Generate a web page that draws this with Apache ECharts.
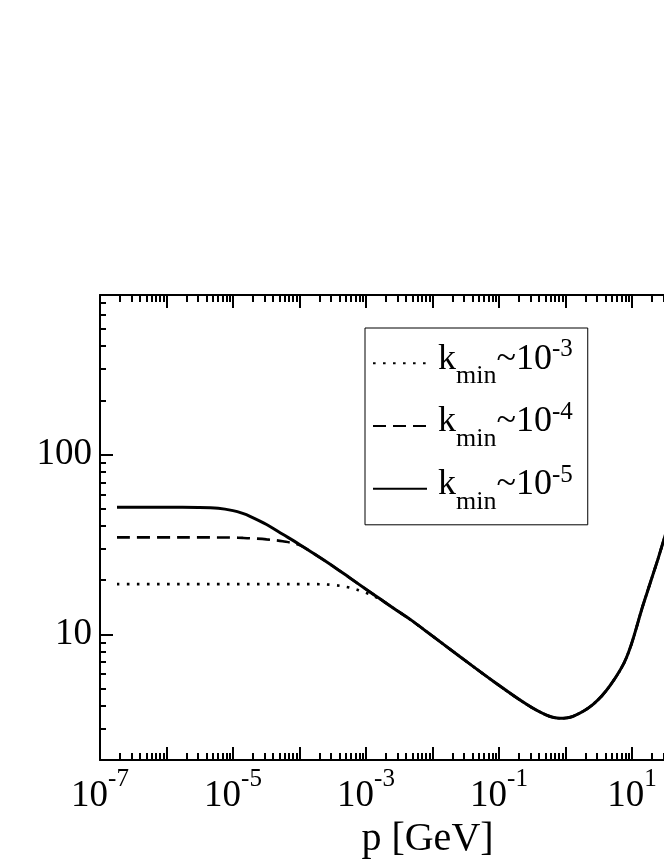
<!DOCTYPE html>
<html><head><meta charset="utf-8">
<script src="https://cdn.jsdelivr.net/npm/echarts@6/dist/echarts.min.js"></script>
<style>html,body{margin:0;padding:0;background:#fff}#c{width:664px;height:860px}</style>
</head><body><div id="c"></div>
<script>
// momentum p [GeV]
const pValues = [1.8e-7, 1e-6, 3e-6, 6e-6, 1e-5, 1.4e-5, 1.8e-5, 3.2e-5, 5.6e-5, 1e-4, 1.8e-4, 3.2e-4, 5.6e-4, 1e-3, 1.6e-3, 2.6e-3, 4.6e-3, 8.3e-3, 2.6e-2, 8.1e-2, 0.26, 0.52, 0.83, 1.3, 2.6, 4.7, 8.3, 14.8, 24.5, 30.2, 40];
// k_min ~ 1e-5 (solid)
const kmin5 = [50.8, 50.8, 50.7, 50.2, 48.7, 47.0, 45.3, 40.8, 36.0, 31.6, 27.5, 23.9, 20.7, 17.8, 15.8, 13.95, 12.1, 10.3, 7.5, 5.5, 4.08, 3.55, 3.41, 3.50, 4.08, 5.2, 7.45, 14.7, 26.1, 33.7, 47];
// k_min ~ 1e-4 (dashed)
const kmin4 = [34.6, 34.6, 34.6, 34.55, 34.5, 34.35, 34.2, 33.7, 32.9, 31.3, 27.5, 23.9, 20.7, 17.8, 15.8, 13.95, 12.1, 10.3, 7.5, 5.5, 4.08, 3.55, 3.41, 3.50, 4.08, 5.2, 7.45, 14.7, 26.1, 33.7, 47];
// k_min ~ 1e-3 (dotted)
const kmin3 = [19.0, 19.0, 19.0, 19.0, 19.0, 19.0, 19.0, 19.0, 19.0, 19.0, 19.0, 18.8, 18.2, 17.0, 15.7, 13.95, 12.1, 10.3, 7.5, 5.5, 4.08, 3.55, 3.41, 3.50, 4.08, 5.2, 7.45, 14.7, 26.1, 33.7, 47];

const seriesNames = ['kmin~10^-3', 'kmin~10^-4', 'kmin~10^-5'];
const seriesExp = ['-3', '-4', '-5'];

const xMin = 1e-7, xMax = 1e3;
const yMin = 2, yMax = 770;
const xMajorTicks = [1e-7, 1e-6, 1e-5, 1e-4, 1e-3, 1e-2, 1e-1, 1, 10, 100, 1000];
const xLabelTicks = [1e-7, 1e-5, 1e-3, 1e-1, 10, 1000];
const yMajorTicks = [10, 100];
const yLabelTicks = [10, 100];
const minorMult = [2, 3, 4, 5, 6, 7, 8, 9];

const xMinorTicks = [];
for (let e = -7; e < 3; e++) for (const m of minorMult) xMinorTicks.push(m * Math.pow(10, e));
const yMinorTicks = [];
for (const d of [1, 10, 100]) for (const m of minorMult) { const v = m * d; if (v > yMin && v < yMax) yMinorTicks.push(v); }

const FONT = '"Liberation Serif", "DejaVu Serif", serif';
const BLACK = '#000';

function pairs(vals) { return pValues.map((p, i) => [p, vals[i]]); }

function xAxisDef(pos, major, showLabel, showLine) {
  return {
    type: 'log', logBase: 10, position: pos, min: xMin, max: xMax,
    axisLine: { show: showLine, onZero: false, lineStyle: { color: BLACK, width: 2 } },
    axisTick: { show: true, inside: true, length: major ? 13 : 7, customValues: major ? xMajorTicks : xMinorTicks, lineStyle: { color: BLACK, width: 2 } },
    minorTick: { show: false },
    splitLine: { show: false },
    axisLabel: showLabel ? {
      show: true, customValues: xLabelTicks, margin: 7,
      formatter: v => '{b|10}{e|' + Math.round(Math.log10(v)) + '}',
      rich: {
        b: { fontFamily: FONT, fontSize: 37, color: BLACK, verticalAlign: 'bottom' },
        e: { fontFamily: FONT, fontSize: 25, color: BLACK, verticalAlign: 'bottom', padding: [0, 0, 23, 0] }
      }
    } : { show: false }
  };
}
function yAxisDef(pos, major, showLabel, showLine) {
  return {
    type: 'log', logBase: 10, position: pos, min: yMin, max: yMax,
    axisLine: { show: showLine, onZero: false, lineStyle: { color: BLACK, width: 2 } },
    axisTick: { show: true, inside: true, length: major ? 13 : 6, customValues: major ? yMajorTicks : yMinorTicks, lineStyle: { color: BLACK, width: 2 } },
    minorTick: { show: false },
    splitLine: { show: false },
    axisLabel: showLabel ? {
      show: true, customValues: yLabelTicks, margin: 8,
      fontFamily: FONT, fontSize: 37, color: BLACK,
      formatter: v => String(Math.round(v))
    } : { show: false }
  };
}

const xAxes = [xAxisDef('bottom', true, true, true), xAxisDef('bottom', false, false, false), xAxisDef('top', true, false, true), xAxisDef('top', false, false, false)];
xAxes[0].name = 'p [GeV]';
xAxes[0].nameLocation = 'middle';
xAxes[0].nameGap = 46;
xAxes[0].nameTextStyle = { fontFamily: FONT, fontSize: 40, color: BLACK, padding: [0, 10, 0, 0] };
const yAxes = [yAxisDef('left', true, true, true), yAxisDef('left', false, false, false), yAxisDef('right', true, false, true), yAxisDef('right', false, false, false)];

const styles = [
  { width: 2.6, type: [2.6, 7.4], cap: 'butt' },
  { width: 2.6, type: [13, 7], cap: 'butt' },
  { width: 3, type: 'solid' }
];
const dataSets = [kmin3, kmin4, kmin5];

const chart = echarts.init(document.getElementById('c'), null, { renderer: 'canvas' });
chart.setOption({
  animation: false,
  backgroundColor: '#fff',
  grid: { left: 100, top: 295, width: 665, height: 465, containLabel: false, outerBoundsMode: 'none' },
  xAxis: xAxes,
  yAxis: yAxes,
  legend: {
    data: seriesNames,
    orient: 'vertical',
    left: 365, top: 328,
    padding: [9, 15, 10, 7],
    itemGap: 10.6,
    itemWidth: 54, itemHeight: 14,
    itemStyle: { opacity: 0 },
    backgroundColor: '#fff',
    borderColor: BLACK, borderWidth: 1, borderRadius: 0,
    selectedMode: false,
    formatter: name => {
      const i = seriesNames.indexOf(name);
      return '{k0|k}{s|min}{k|~10}{e|' + seriesExp[i] + '}';
    },
    textStyle: {
      rich: {
        k0: { fontFamily: FONT, fontSize: 36, color: BLACK, verticalAlign: 'middle', padding: [0, 0, 8, 6] },
        k: { fontFamily: FONT, fontSize: 36, color: BLACK, verticalAlign: 'middle', padding: [0, 0, 8, 0] },
        s: { fontFamily: FONT, fontSize: 26, color: BLACK, verticalAlign: 'middle', padding: [26, 0, 0, 0] },
        e: { fontFamily: FONT, fontSize: 25, color: BLACK, verticalAlign: 'middle', padding: [0, 0, 27.4, 0] }
      }
    }
  },
  series: seriesNames.map((n, i) => ({
    name: n, type: 'line', xAxisIndex: 0, yAxisIndex: 0,
    data: pairs(dataSets[i]),
    symbol: 'none', showSymbol: false, smooth: 0.35,
    color: BLACK,
    lineStyle: Object.assign({ color: BLACK }, styles[i]),
    z: 2 + i
  }))
});
</script></body></html>
